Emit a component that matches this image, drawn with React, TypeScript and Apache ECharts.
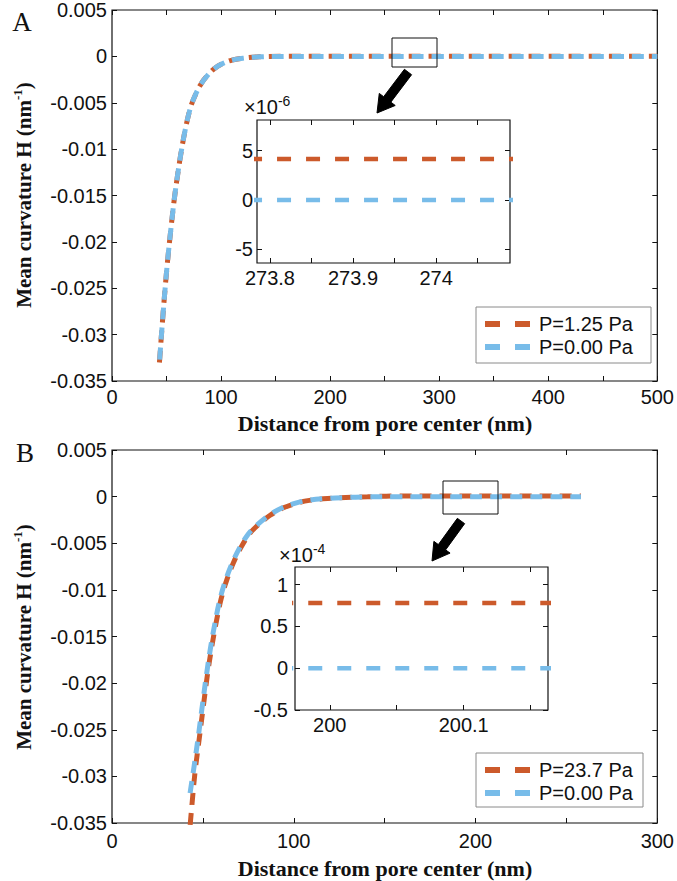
import { useEffect, useRef } from "react";
import * as echarts from "echarts";

// ---------- Panel A (main) ----------
const aDistance = [43.5, 46, 48.5, 51, 54, 57, 60, 63, 67, 72, 77, 82, 88, 94, 101, 110, 120, 135, 160, 200, 300, 400, 500];
const aCurvBlue = [-0.033, -0.029, -0.0253, -0.022, -0.0186, -0.0155, -0.0129, -0.0106, -0.008, -0.0055, -0.004, -0.0029, -0.002, -0.0013, -0.0008, -0.0004, -0.0002, -0.00005, 0, 0, 0, 0, 0];
const aCurvOrange = [-0.033, -0.029, -0.0253, -0.022, -0.0186, -0.0155, -0.0129, -0.0106, -0.008, -0.0055, -0.004, -0.0029, -0.002, -0.0013, -0.0008, -0.0004, -0.0002, -0.000046, 0.000004, 0.000004, 0.000004, 0.000004, 0.000004];

// ---------- Panel A (inset, values in units of 1e-6) ----------
const aInsetDistance = [273.77, 274.1];
const aInsetOrange = [4.14, 4.14];
const aInsetBlue = [0, 0];
const aInsetXTicks = [273.8, 273.85, 273.9, 273.95, 274, 274.05];
const aInsetXLabels = [273.8, 273.9, 274];
const aInsetYTicks = [-5, 0, 5];

// ---------- Panel B (main) ----------
const bDistanceBlue = [42.7, 45.1, 47.5, 49.7, 51.9, 54.3, 56.7, 59.4, 62.6, 66.2, 69.9, 75, 80, 86.4, 93.7, 101, 108, 118, 128, 140, 155, 200, 258];
const bCurvBlue = [-0.0321, -0.029, -0.0257, -0.0224, -0.0192, -0.0161, -0.0135, -0.011, -0.0089, -0.0071, -0.0056, -0.004, -0.003, -0.002, -0.0012, -0.0007, -0.0004, -0.0002, -0.0001, -0.00003, 0, 0, 0];
const bDistanceOrange = [43.0, 44.0, 45.7, 48.1, 50.3, 52.5, 54.9, 57.3, 60.0, 63.2, 66.8, 70.5, 75.6, 80.6, 87.0, 94.3, 101.6, 108.6, 118.6, 128.6, 140.6, 155.6, 200, 258];
const bCurvOrange = [-0.0352, -0.033, -0.0295, -0.0258, -0.0224, -0.0191, -0.0161, -0.0135, -0.011, -0.0089, -0.0071, -0.0056, -0.004, -0.003, -0.002, -0.0012, -0.0007, -0.0004, -0.0002, -0.0001, -0.00002, 0.00008, 0.00008, 0.00008];

// ---------- Panel B (inset, values in units of 1e-4) ----------
const bInsetDistance = [199.96, 200.18];
const bInsetOrange = [0.78, 0.78];
const bInsetBlue = [0, 0];
const bInsetXTicks = [200, 200.05, 200.1, 200.15];
const bInsetXLabels = [200, 200.1];
const bInsetYTicks = [-0.5, 0, 0.5, 1];

const legendA = ["P=1.25 Pa", "P=0.00 Pa"];
const legendB = ["P=23.7 Pa", "P=0.00 Pa"];

const ORANGE = "#CC5A2B";
const BLUE = "#78BCE9";
const SANS = "Liberation Sans, Arial, sans-serif";
const SERIF = "Liberation Serif, Times New Roman, serif";
const INK = "#111";

const zip = (xs: number[], ys: number[]) => xs.map((x, i) => [x, ys[i]]);

const fmtMain = (v: number) => String(parseFloat(v.toFixed(4)));

function arrowPoints(tail: number[], tip: number[], sh: number, hh: number, hl: number) {
  const dx = tip[0] - tail[0];
  const dy = tip[1] - tail[1];
  const L = Math.hypot(dx, dy);
  const ux = dx / L, uy = dy / L;
  const nx = -uy, ny = ux;
  const bx = tip[0] - ux * hl, by = tip[1] - uy * hl;
  return [
    [tail[0] + nx * sh, tail[1] + ny * sh],
    [bx + nx * sh, by + ny * sh],
    [bx + nx * hh, by + ny * hh],
    [tip[0], tip[1]],
    [bx - nx * hh, by - ny * hh],
    [bx - nx * sh, by - ny * sh],
    [tail[0] - nx * sh, tail[1] - ny * sh],
  ];
}

function legendGroup(x: number, y: number, w: number, h: number, labels: string[]) {
  const rows = [y + 17, y + 40];
  const cols = [ORANGE, BLUE];
  const children: any[] = [
    { type: "rect", shape: { x, y, width: w, height: h }, style: { fill: "#fff", stroke: "#8a8a8a", lineWidth: 1 } },
  ];
  labels.forEach((t, i) => {
    children.push({
      type: "line",
      shape: { x1: x + 9, y1: rows[i], x2: x + 54, y2: rows[i] },
      style: { stroke: cols[i], lineWidth: 6, lineDash: [15, 15] },
    });
    children.push({
      type: "text",
      x: x + 63,
      y: rows[i],
      style: { text: t, fontFamily: SANS, fontSize: 20, fill: INK, align: "left", verticalAlign: "middle" },
    });
  });
  return { type: "group", z: 100, children };
}

export default function App() {
  const ref = useRef<HTMLDivElement>(null);

  useEffect(() => {
    document.body.style.margin = "0";
    const chart = echarts.init(ref.current!, undefined, { renderer: "svg" });

    const grids = [
      { left: 112, top: 8, width: 546, height: 373 },
      { left: 257, top: 120, width: 253, height: 143 },
      { left: 112, top: 450, width: 546, height: 373 },
      { left: 295, top: 567, width: 253, height: 143 },
    ].map((g) => ({ ...g, show: true, backgroundColor: "#fff", borderColor: INK, borderWidth: 1.2, containLabel: false }));

    const tickStyle = { show: true, inside: true, length: 5, lineStyle: { color: INK, width: 1 } };
    const labelStyle = { color: INK, fontFamily: SANS, fontSize: 20 };
    const noLine = { show: false, onZero: false };

    const mainX = (gi: number, max: number, margin: number) => [
      {
        type: "value", gridIndex: gi, min: 0, max, interval: 50, position: "bottom",
        axisLine: noLine, axisTick: tickStyle, splitLine: { show: false },
        axisLabel: { ...labelStyle, margin, formatter: (v: number) => (v % 100 === 0 ? String(v) : "") },
      },
      {
        type: "value", gridIndex: gi, min: 0, max, interval: 50, position: "top",
        axisLine: noLine, axisTick: tickStyle, splitLine: { show: false }, axisLabel: { show: false },
      },
    ];
    const mainY = (gi: number) => [
      {
        type: "value", gridIndex: gi, min: -0.035, max: 0.005, interval: 0.005, position: "left",
        axisLine: noLine, axisTick: tickStyle, splitLine: { show: false },
        axisLabel: { ...labelStyle, margin: 5, formatter: fmtMain },
      },
      {
        type: "value", gridIndex: gi, min: -0.035, max: 0.005, interval: 0.005, position: "right",
        axisLine: noLine, axisTick: tickStyle, splitLine: { show: false }, axisLabel: { show: false },
      },
    ];
    const insetX = (gi: number, min: number, max: number, ticks: number[], labels: number[]) => [
      {
        type: "value", gridIndex: gi, min, max, position: "bottom",
        axisLine: noLine, axisTick: { ...tickStyle, customValues: ticks }, splitLine: { show: false },
        axisLabel: { ...labelStyle, margin: 5, customValues: labels, formatter: (v: number) => String(parseFloat(v.toFixed(2))) },
      },
      {
        type: "value", gridIndex: gi, min, max, position: "top",
        axisLine: noLine, axisTick: { ...tickStyle, customValues: ticks }, splitLine: { show: false }, axisLabel: { show: false },
      },
    ];
    const insetY = (gi: number, min: number, max: number, ticks: number[], margin: number) => [
      {
        type: "value", gridIndex: gi, min, max, position: "left",
        axisLine: noLine, axisTick: { ...tickStyle, customValues: ticks }, splitLine: { show: false },
        axisLabel: { ...labelStyle, margin, customValues: ticks, formatter: (v: number) => String(parseFloat(v.toFixed(2))) },
      },
      {
        type: "value", gridIndex: gi, min, max, position: "right",
        axisLine: noLine, axisTick: { ...tickStyle, customValues: ticks }, splitLine: { show: false }, axisLabel: { show: false },
      },
    ];

    const xAxis = [
      ...mainX(0, 500, 6),
      ...insetX(1, 273.7844, 274.089, aInsetXTicks, aInsetXLabels),
      ...mainX(2, 300, 8),
      ...insetX(3, 199.974, 200.163, bInsetXTicks, bInsetXLabels),
    ];
    const yAxis = [
      ...mainY(0),
      ...insetY(1, -6.4, 8.1, aInsetYTicks, 4),
      ...mainY(2),
      ...insetY(3, -0.5, 1.21, bInsetYTicks, 7),
    ];

    const mainLine = (data: number[][], color: string, axis: number, z: number, offset: number) => ({
      type: "line", xAxisIndex: axis, yAxisIndex: axis, data, showSymbol: false, symbol: "none",
      smooth: 0.35, clip: true, z,
      lineStyle: { color, width: 5, type: [12, 8], dashOffset: offset, cap: "butt" },
    });
    const insetLine = (data: number[][], color: string, axis: number) => ({
      type: "line", xAxisIndex: axis, yAxisIndex: axis, data, showSymbol: false, symbol: "none", clip: true,
      lineStyle: { color, width: 4.5, type: [14, 15], dashOffset: -3, cap: "butt" },
    });

    const series = [
      mainLine(zip(aDistance, aCurvOrange), ORANGE, 0, 3, 0),
      mainLine(zip(aDistance, aCurvBlue), BLUE, 0, 4, -3),
      insetLine(zip(aInsetDistance, aInsetOrange), ORANGE, 2),
      insetLine(zip(aInsetDistance, aInsetBlue), BLUE, 2),
      mainLine(zip(bDistanceOrange, bCurvOrange), ORANGE, 4, 3, 0),
      mainLine(zip(bDistanceBlue, bCurvBlue), BLUE, 4, 4, -3),
      insetLine(zip(bInsetDistance, bInsetOrange), ORANGE, 6),
      insetLine(zip(bInsetDistance, bInsetBlue), BLUE, 6),
    ];

    const yTitle = (y: number) => ({
      type: "text", x: 24, y, rotation: Math.PI / 2, z: 100,
      style: {
        text: "{m|Mean curvature H (nm}{s|-1}{m|)}",
        align: "center", verticalAlign: "middle", fill: INK,
        rich: {
          m: { fontFamily: SERIF, fontWeight: "bold", fontSize: 21, lineHeight: 27, fill: INK },
          s: { fontFamily: SERIF, fontWeight: "bold", fontSize: 13, verticalAlign: "top", fill: INK },
        },
      },
    });
    const xTitle = (x: number, y: number) => ({
      type: "text", x, y, z: 100,
      style: {
        text: "Distance from pore center (nm)", fontFamily: SERIF, fontWeight: "bold", fontSize: 22,
        fill: INK, align: "center", verticalAlign: "middle",
      },
    });
    const panelLetter = (t: string, x: number, y: number) => ({
      type: "text", x, y, z: 100,
      style: { text: t, fontFamily: SERIF, fontSize: 27, fill: INK, align: "center", verticalAlign: "middle" },
    });
    const expLabel = (x: number, y: number, e: string) => ({
      type: "text", x, y, z: 100,
      style: {
        text: `{a|×10}{b|${e}}`, align: "left", verticalAlign: "middle", fill: INK,
        rich: {
          a: { fontFamily: SANS, fontSize: 20, lineHeight: 26, fill: INK },
          b: { fontFamily: SANS, fontSize: 14, verticalAlign: "top", fill: INK },
        },
      },
    });

    const graphic = [
      panelLetter("A", 22, 22),
      panelLetter("B", 25, 453),
      yTitle(195),
      yTitle(637),
      xTitle(385, 423),
      xTitle(385, 868),
      expLabel(244, 107, "-6"),
      expLabel(279, 555, "-4"),
      { type: "rect", z: 100, shape: { x: 392, y: 38, width: 45, height: 29 }, style: { fill: "none", stroke: INK, lineWidth: 1 } },
      { type: "rect", z: 100, shape: { x: 443, y: 481, width: 55, height: 33 }, style: { fill: "none", stroke: INK, lineWidth: 1 } },
      { type: "polygon", z: 100, shape: { points: arrowPoints([408, 72], [377, 113], 4.5, 10, 17) }, style: { fill: "#000", stroke: "#000", lineWidth: 1 } },
      { type: "polygon", z: 100, shape: { points: arrowPoints([461, 521], [432, 561], 4.5, 10, 17) }, style: { fill: "#000", stroke: "#000", lineWidth: 1 } },
      legendGroup(476, 307, 175, 56, legendA),
      legendGroup(476, 753, 167, 54, legendB),
    ];

    chart.setOption({
      animation: false,
      backgroundColor: "#fff",
      grid: grids,
      xAxis,
      yAxis,
      series,
      graphic,
    });

    return () => chart.dispose();
  }, []);

  return <div ref={ref} style={{ width: 677, height: 881 }} />;
}
